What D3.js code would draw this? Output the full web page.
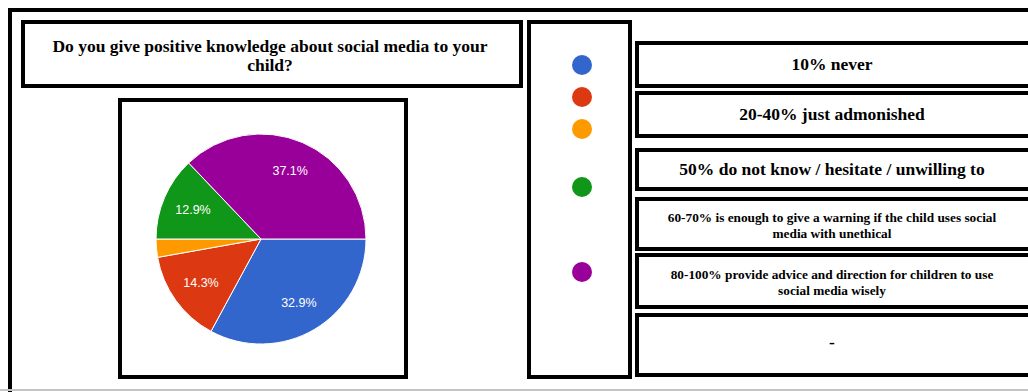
<!DOCTYPE html>
<html>
<head>
<meta charset="utf-8">
<script src="https://cdn.jsdelivr.net/npm/d3@7"></script>
<style>
  body { margin: 0; background: #fff; }
  svg { display: block; }
</style>
</head>
<body>
<div id="chart"></div>
<script>
// question + answer options
var title = ["Do you give positive knowledge about social media to your", "child?"];
var options = [
  "10% never",
  "20-40% just admonished",
  "50% do not know / hesitate / unwilling to",
  "60-70% is enough to give a warning if the child uses social\nmedia with unethical",
  "80-100% provide advice and direction for children to use\nsocial media wisely",
  "-"
];
// pie slices (same order as options, last option has no slice)
var shares = [32.9, 14.3, 2.8, 12.9, 37.1];
var colors = ["#3366cc", "#dc3912", "#ff9900", "#109618", "#990099"];

var width = 1028, height = 392;

var svg = d3.select("#chart")
  .append("svg")
    .attr("width", width)
    .attr("height", height);

// outer frame
svg.append("path")
  .attr("d", "M10,392 L10,10 L1040,10")
  .attr("fill", "none")
  .attr("stroke", "#000")
  .attr("stroke-width", 4);
svg.append("line")
  .attr("x1", 0).attr("x2", width)
  .attr("y1", 390).attr("y2", 390)
  .attr("stroke", "#c4c4c4")
  .attr("stroke-width", 2);

function box(x0, y0, x1, y1) {
  return svg.append("rect")
    .attr("x", x0 + 2).attr("y", y0 + 2)
    .attr("width", x1 - x0 - 4).attr("height", y1 - y0 - 4)
    .attr("fill", "#fff")
    .attr("stroke", "#000")
    .attr("stroke-width", 4);
}

// title box
box(21, 20, 523, 88);
var titleText = svg.append("text")
  .attr("x", 270)
  .attr("text-anchor", "middle")
  .style("font-family", "'Liberation Serif', 'Times New Roman', serif")
  .style("font-weight", "bold")
  .style("font-size", "17.5px");
titleText.selectAll("tspan")
  .data(title)
  .enter().append("tspan")
    .attr("x", 270)
    .attr("y", function(d, i) { return 52 + i * 19; })
    .text(function(d) { return d; });

// pie box
box(118, 98, 408, 379);

var cx = 261, cy = 239, radius = 105;
var pie = d3.pie()
  .sort(null)
  .startAngle(Math.PI / 2)
  .endAngle(Math.PI / 2 + 2 * Math.PI);
var arc = d3.arc().innerRadius(0).outerRadius(radius);
var labelArc = d3.arc().innerRadius(74).outerRadius(74);

var gPie = svg.append("g")
  .attr("transform", "translate(" + cx + "," + cy + ")");

var arcs = pie(shares);
gPie.selectAll("path")
  .data(arcs)
  .enter().append("path")
    .attr("d", arc)
    .attr("fill", function(d, i) { return colors[i]; })
    .attr("stroke", "#fff")
    .attr("stroke-width", 1);

gPie.selectAll("text")
  .data(arcs.filter(function(d) { return d.data > 5; }))
  .enter().append("text")
    .attr("transform", function(d) { return "translate(" + labelArc.centroid(d) + ")"; })
    .attr("text-anchor", "middle")
    .attr("dy", "0.35em")
    .attr("fill", "#fff")
    .style("font-family", "'Liberation Sans', Arial, sans-serif")
    .style("font-size", "12.5px")
    .text(function(d) { return d3.format(".1f")(d.data) + "%"; });

// legend column
box(527, 20, 632, 379);
var dotY = [65, 97, 129, 187, 272];
svg.selectAll("circle.dot")
  .data(shares)
  .enter().append("circle")
    .attr("class", "dot")
    .attr("cx", 582)
    .attr("cy", function(d, i) { return dotY[i]; })
    .attr("r", 10)
    .attr("fill", function(d, i) { return colors[i]; });

// option boxes
var boxY = [[41, 88], [91, 138], [148, 191], [197, 251], [253, 309], [313, 377]];
var fontSizes = [17.5, 17.5, 17.5, 13.3, 13.3, 17.5];

options.forEach(function(label, i) {
  var y0 = boxY[i][0], y1 = boxY[i][1];
  box(635, y0, 1034, y1);
  var lines = label.split("\n");
  var fs = fontSizes[i];
  var lh = fs * 1.2;
  var mid = (y0 + y1) / 2 + (lines.length > 1 ? 2 : 0) - (label === "-" ? 3 : 0);
  var t = svg.append("text")
    .attr("text-anchor", "middle")
    .style("font-family", "'Liberation Serif', 'Times New Roman', serif")
    .style("font-weight", "bold")
    .style("font-size", fs + "px");
  t.selectAll("tspan")
    .data(lines)
    .enter().append("tspan")
      .attr("x", 832)
      .attr("y", function(d, j) { return mid + (j - (lines.length - 1) / 2) * lh + fs * 0.33; })
      .text(function(d) { return d; });
});
</script>
</body>
</html>
